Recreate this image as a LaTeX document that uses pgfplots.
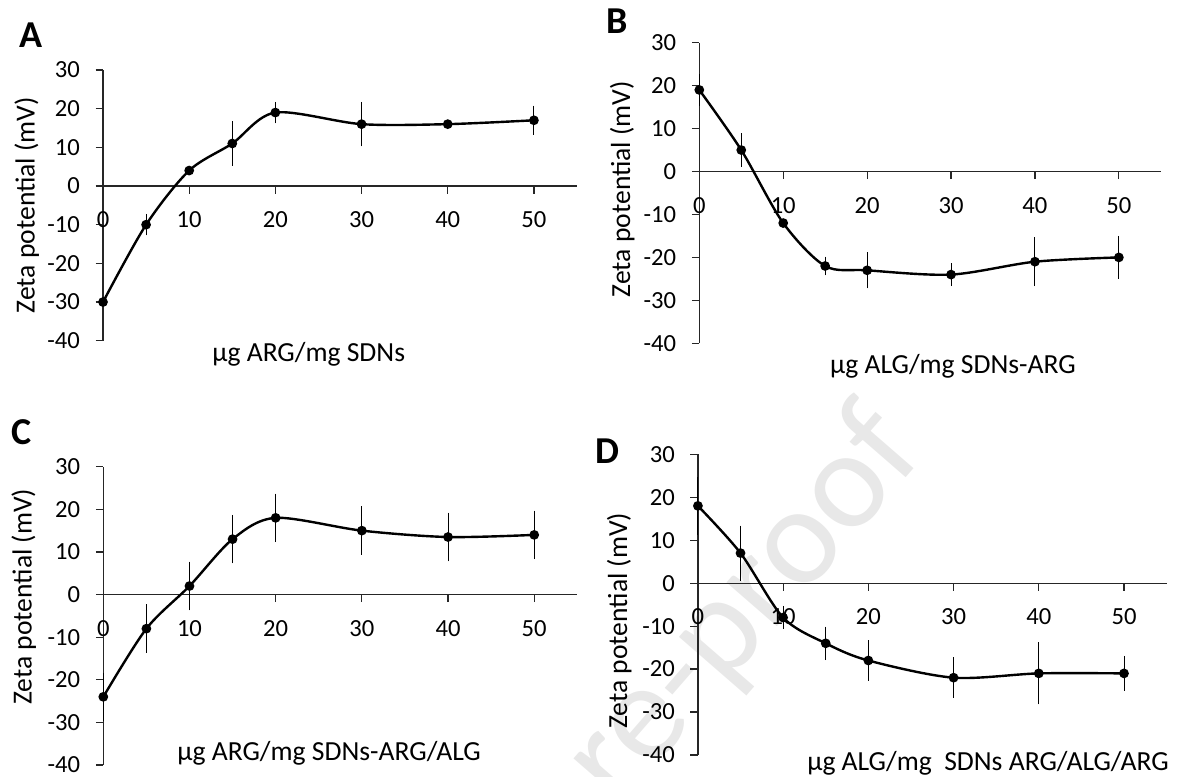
\documentclass[border=0pt]{standalone}
\usepackage{fontspec}
\setmainfont{Carlito}
\usepackage{pgfplots}
\pgfplotsset{compat=1.18}
\newcommand{\tickfont}{\fontsize{12.3}{14}\selectfont}
\pgfplotsset{
  zeta/.style={
    scale only axis,
    xmin=0, xmax=55, ymin=-40, ymax=30,
    axis x line=middle, axis y line=left,
    axis line style={-, line width=0.6pt, black!85},
    xtick={0,10,...,50}, ytick={-40,-30,...,30},
    tick align=outside,
    major tick length=3.75pt,
    tick style={line width=0.6pt, black!85},
    ticklabel style={font=\tickfont},
    /pgf/number format/assume math mode=true,
    xticklabel style={yshift=-5.5pt},
    yticklabel style={xshift=-4.3pt},
    label style={font=\fontsize{13.8}{16}\selectfont},
    xlabel style={anchor=center},
    ylabel style={anchor=center},
    clip=false,
    execute at end axis={\node[font=\tickfont, anchor=north, inner sep=0.333em, yshift=-9.25pt] at (axis cs:0,0) {0};},
  },
  zline/.style={black, line width=1.2pt, smooth, tension=0.5, mark=*, mark size=1.8pt, mark options={solid},
    error bars/.cd, y dir=both, y explicit,
    error bar style={line width=0.5pt, black},
    error mark options={line width=0.5pt, mark size=1.5pt, black}},
}
\begin{document}
\begin{tikzpicture}
\useasboundingbox (0,0) rectangle (593pt,388pt);
\node[rotate=49, text=black!9, font=\fontsize{70}{70}\selectfont] at (372.5pt,84pt) {re-proof};
% Panel letters
\node[font=\fontsize{19}{21}\selectfont\bfseries] at (15.3pt,370.5pt) {A};
\node[font=\fontsize{19}{21}\selectfont\bfseries] at (308.75pt,377.5pt) {B};
\node[font=\fontsize{19}{21}\selectfont\bfseries] at (11pt,171.75pt) {C};
\node[font=\fontsize{19}{21}\selectfont\bfseries] at (303.5pt,162.5pt) {D};
% A
\begin{axis}[zeta, at={(51.5pt,217.65pt)}, anchor=south west, width=237pt, height=135.35pt,
  xlabel={µg ARG/mg SDNs}, ylabel={Zeta potential (mV)},
  xlabel style={at={(axis description cs:0.434,-0.049)}},
  ylabel style={at={(axis description cs:-0.1608,0.501)}}]
\addplot[zline] table[x=x,y=y,y error=e] {
x y e
0 -30 0
5 -10 2
10 4 0
15 11 5
20 19 2
30 16 5
40 16 0
50 17 3
};
\end{axis}
% B
\begin{axis}[zeta, at={(349.65pt,216.35pt)}, anchor=south west, width=230.75pt, height=150.3pt,
  xlabel={µg ALG/mg SDNs-ARG}, ylabel={Zeta potential (mV)},
  xlabel style={at={(axis description cs:0.5497,-0.078)}},
  ylabel style={at={(axis description cs:-0.1668,0.513)}}]
\addplot[zline] table[x=x,y=y,y error=e] {
x y e
0 19 3
5 5 3.2
10 -12 0
15 -22 1.5
20 -23 3.5
30 -24 2
40 -21 5
50 -20 4.3
};
\end{axis}
% C
\begin{axis}[zeta, at={(51.65pt,5.5pt)}, anchor=south west, width=237pt, height=149.15pt,
  xlabel={µg ARG/mg SDNs-ARG/ALG}, ylabel={Zeta potential (mV)},
  xlabel style={at={(axis description cs:0.4764,0.039)}},
  ylabel style={at={(axis description cs:-0.168,0.564)}}]
\addplot[zline] table[x=x,y=y,y error=e] {
x y e
0 -24 5
5 -8 5
10 2 5
15 13 5
20 18 5
30 15 5
40 13.5 5
50 14 5
};
\end{axis}
% D
\begin{axis}[zeta, at={(348.95pt,10.5pt)}, anchor=south west, width=234.35pt, height=150.35pt,
  xlabel={µg ALG/mg\ \ SDNs ARG/ALG/ARG}, ylabel={Zeta potential (mV)},
  xlabel style={at={(axis description cs:0.619,-0.0266)}},
  ylabel style={at={(axis description cs:-0.1677,0.4466)}}]
\addplot[zline] table[x=x,y=y,y error=e] {
x y e
0 18 6
5 7 5.7
10 -8 2
15 -14 3.2
20 -18 4
30 -22 4
40 -21 6.5
50 -21 3.4
};
\end{axis}
\end{tikzpicture}
\end{document}
